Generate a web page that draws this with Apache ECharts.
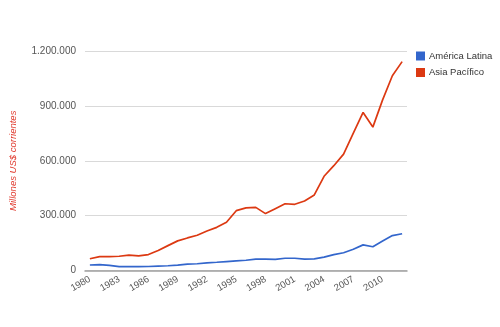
<!DOCTYPE html>
<html>
<head>
<meta charset="utf-8">
<script src="https://cdn.jsdelivr.net/npm/echarts@6/dist/echarts.min.js"></script>
<style>
  html, body { margin: 0; padding: 0; background: #fff; }
  #chart { width: 500px; height: 327px; }
</style>
</head>
<body>
<div id="chart"></div>
<script>
// Years on the horizontal axis
const years = [];
for (let y = 1980; y <= 2012; y++) years.push(String(y));

// Millones US$ corrientes, by region
const americaLatina = [
  30000, 32000, 28000, 21000, 21000, 21000, 22000, 24000, 26000, 29000,
  35000, 37000, 42000, 45000, 49000, 53000, 56000, 62000, 62000, 61000,
  67000, 67000, 62000, 64000, 73000, 87000, 97000, 116000, 140000, 130000,
  161000, 191000, 201000
];
const asiaPacifico = [
  64000, 76000, 76000, 78000, 84000, 80000, 87000, 109000, 136000, 162000,
  178000, 193000, 216000, 236000, 264000, 327000, 342000, 345000, 311000, 338000,
  365000, 362000, 380000, 413000, 515000, 573000, 636000, 751000, 864000, 784000,
  933000, 1065000, 1142000
];

const seriesNames = ['América Latina', 'Asia Pacífico'];
const axisTitle = 'Millones US$ corrientes';

function fmt(v) {
  return String(v).replace(/\B(?=(\d{3})+(?!\d))/g, '.');
}

const chart = echarts.init(document.getElementById('chart'), null, { renderer: 'canvas' });
const font = 'Liberation Sans, Arial, sans-serif';

chart.setOption({
  animation: false,
  backgroundColor: '#ffffff',
  color: ['#3366cc', '#dc3912'],
  grid: { left: 85, right: 93, top: 51, bottom: 56.5 },
  legend: {
    orient: 'vertical',
    left: 416,
    top: 51,
    padding: 0,
    itemWidth: 9,
    itemHeight: 9,
    itemGap: 6.5,
    icon: 'rect',
    textStyle: { fontFamily: font, fontSize: 9.5, color: '#333', lineHeight: 9, padding: [0, 0, 0, -1] },
    data: seriesNames
  },
  xAxis: {
    type: 'category',
    data: years,
    boundaryGap: true,
    axisLine: { show: true, lineStyle: { color: '#a0a0a0', width: 1.5 } },
    axisTick: { show: false },
    splitLine: { show: false },
    axisLabel: {
      interval: 2,
      rotate: 30,
      fontFamily: font,
      fontSize: 9.5,
      color: '#555',
      margin: 8
    }
  },
  yAxis: {
    type: 'value',
    min: 0,
    max: 1200000,
    interval: 300000,
    name: axisTitle,
    nameLocation: 'middle',
    nameGap: 67,
    nameTextStyle: { fontFamily: font, fontSize: 9.5, fontStyle: 'italic', color: '#e03a2e' },
    axisLine: { show: false },
    axisTick: { show: false },
    splitLine: { lineStyle: { color: '#d9d9d9', width: 1 } },
    axisLabel: {
      formatter: fmt,
      fontFamily: font,
      fontSize: 10,
      color: '#555',
      margin: 9
    }
  },
  series: [
    {
      name: seriesNames[0],
      type: 'line',
      data: americaLatina,
      showSymbol: false,
      symbol: 'none',
      lineStyle: { width: 1.7 },
      z: 3
    },
    {
      name: seriesNames[1],
      type: 'line',
      data: asiaPacifico,
      showSymbol: false,
      symbol: 'none',
      lineStyle: { width: 1.7 },
      z: 3
    }
  ]
});
</script>
</body>
</html>
